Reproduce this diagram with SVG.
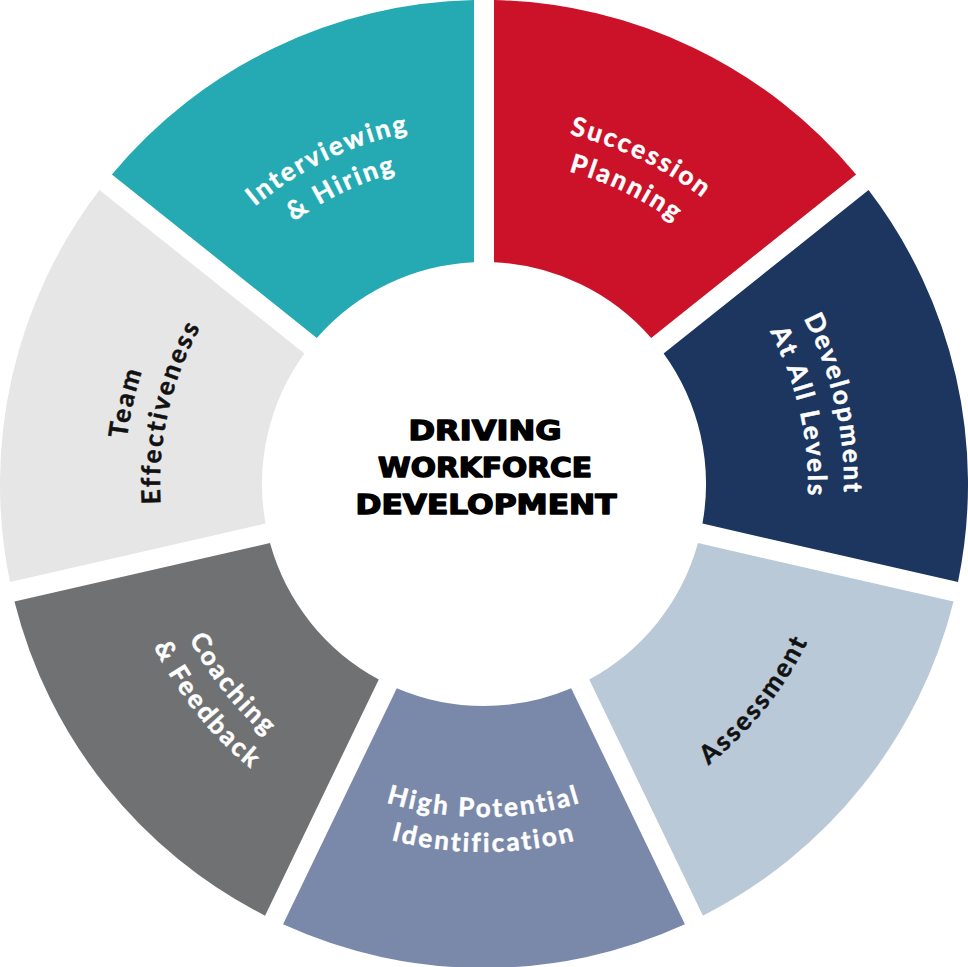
<svg xmlns="http://www.w3.org/2000/svg" xmlns:xlink="http://www.w3.org/1999/xlink" width="968" height="967" viewBox="0 0 968 967">
  <style>
    .lbl { font-family: "Lato", "Liberation Sans", sans-serif; font-weight: 700; font-size: 26px; letter-spacing: 2.4px; stroke-width: 0.5px; }
    .w { fill: #ffffff; stroke: #ffffff; }
    .k { fill: #111111; stroke: #111111; }
    .title { font-family: "DejaVu Sans", "Liberation Sans", sans-serif; font-weight: 700; font-size: 26px; fill: #000000; stroke: #000000; stroke-width: 1.4px; stroke-linejoin: round; }
  </style>
  <defs>
    <path id="top360" d="M 189.11 277.51 A 360 360 0 0 1 778.89 277.51"/>
    <path id="top324" d="M 218.60 298.16 A 324 324 0 0 1 749.40 298.16"/>
    <path id="bot333" d="M 211.23 674.99 A 333 333 0 0 0 756.77 674.99"/>
    <path id="bot368" d="M 182.55 695.08 A 368 368 0 0 0 785.45 695.08"/>
    <path id="bot360" d="M 189.11 690.49 A 360 360 0 0 0 778.89 690.49"/>
  </defs>
  <rect width="968" height="967" fill="#ffffff"/>

  <g id="succession-planning">
    <path fill="#CC1229" d="M 494 0.10 A 484 484 0 0 1 856.09 174.48 L 651.16 337.91 A 222 222 0 0 0 494 262.23 Z"/>
    <text class="lbl w" transform="rotate(25.714 484 484)">
      <textPath xlink:href="#top360" href="#top360" startOffset="50%" text-anchor="middle">Succession</textPath>
    </text>
    <text class="lbl w" transform="rotate(25.714 484 484)">
      <textPath xlink:href="#top324" href="#top324" startOffset="50%" text-anchor="middle">Planning</textPath>
    </text>
  </g>

  <g id="development-at-all-levels">
    <path fill="#1C365F" d="M 868.56 190.11 A 484 484 0 0 1 957.99 581.93 L 702.44 523.60 A 222 222 0 0 0 663.62 353.54 Z"/>
    <text class="lbl w" transform="rotate(77.143 484 484)">
      <textPath xlink:href="#top360" href="#top360" startOffset="50%" text-anchor="middle">Development</textPath>
    </text>
    <text class="lbl w" transform="rotate(77.143 484 484)">
      <textPath xlink:href="#top324" href="#top324" startOffset="50%" text-anchor="middle">At All Levels</textPath>
    </text>
  </g>

  <g id="assessment">
    <path fill="#B9C9D8" d="M 953.54 601.43 A 484 484 0 0 1 702.96 915.64 L 589.23 679.47 A 222 222 0 0 0 697.99 543.10 Z"/>
    <text class="lbl k" transform="rotate(-51.429 484 484)">
      <textPath xlink:href="#bot360" href="#bot360" startOffset="50%" text-anchor="middle">Assessment</textPath>
    </text>
  </g>

  <g id="high-potential-identification">
    <path fill="#7A89A9" d="M 684.94 924.32 A 484 484 0 0 1 283.06 924.32 L 396.79 688.15 A 222 222 0 0 0 571.21 688.15 Z"/>
    <text class="lbl w">
      <textPath xlink:href="#bot333" href="#bot333" startOffset="50%" text-anchor="middle">High Potential</textPath>
    </text>
    <text class="lbl w">
      <textPath xlink:href="#bot368" href="#bot368" startOffset="50%" text-anchor="middle">Identification</textPath>
    </text>
  </g>

  <g id="coaching-feedback">
    <path fill="#707172" d="M 265.04 915.64 A 484 484 0 0 1 14.46 601.43 L 270.01 543.10 A 222 222 0 0 0 378.77 679.47 Z"/>
    <text class="lbl w" transform="rotate(51.429 484 484)">
      <textPath xlink:href="#bot333" href="#bot333" startOffset="50%" text-anchor="middle">Coaching</textPath>
    </text>
    <text class="lbl w" transform="rotate(51.429 484 484)">
      <textPath xlink:href="#bot368" href="#bot368" startOffset="50%" text-anchor="middle">&amp; Feedback</textPath>
    </text>
  </g>

  <g id="team-effectiveness">
    <path fill="#E6E6E6" d="M 10.01 581.93 A 484 484 0 0 1 99.44 190.11 L 304.38 353.54 A 222 222 0 0 0 265.56 523.60 Z"/>
    <text class="lbl k" transform="rotate(-77.143 484 484)">
      <textPath xlink:href="#top360" href="#top360" startOffset="50%" text-anchor="middle">Team</textPath>
    </text>
    <text class="lbl k" transform="rotate(-77.143 484 484)">
      <textPath xlink:href="#top324" href="#top324" startOffset="50%" text-anchor="middle">Effectiveness</textPath>
    </text>
  </g>

  <g id="interviewing-hiring">
    <path fill="#25A9B2" d="M 111.91 174.48 A 484 484 0 0 1 474 0.10 L 474 262.23 A 222 222 0 0 0 316.85 337.91 Z"/>
    <text class="lbl w" transform="rotate(-25.714 484 484)">
      <textPath xlink:href="#top360" href="#top360" startOffset="50%" text-anchor="middle">Interviewing</textPath>
    </text>
    <text class="lbl w" transform="rotate(-25.714 484 484)">
      <textPath xlink:href="#top324" href="#top324" startOffset="50%" text-anchor="middle">&amp; Hiring</textPath>
    </text>
  </g>

  <g id="center-title">
    <text class="title" x="485" y="440" text-anchor="middle" textLength="153" lengthAdjust="spacingAndGlyphs">DRIVING</text>
    <text class="title" x="485" y="477" text-anchor="middle" textLength="214" lengthAdjust="spacingAndGlyphs">WORKFORCE</text>
    <text class="title" x="486" y="514" text-anchor="middle" textLength="261" lengthAdjust="spacingAndGlyphs">DEVELOPMENT</text>
  </g>
</svg>
